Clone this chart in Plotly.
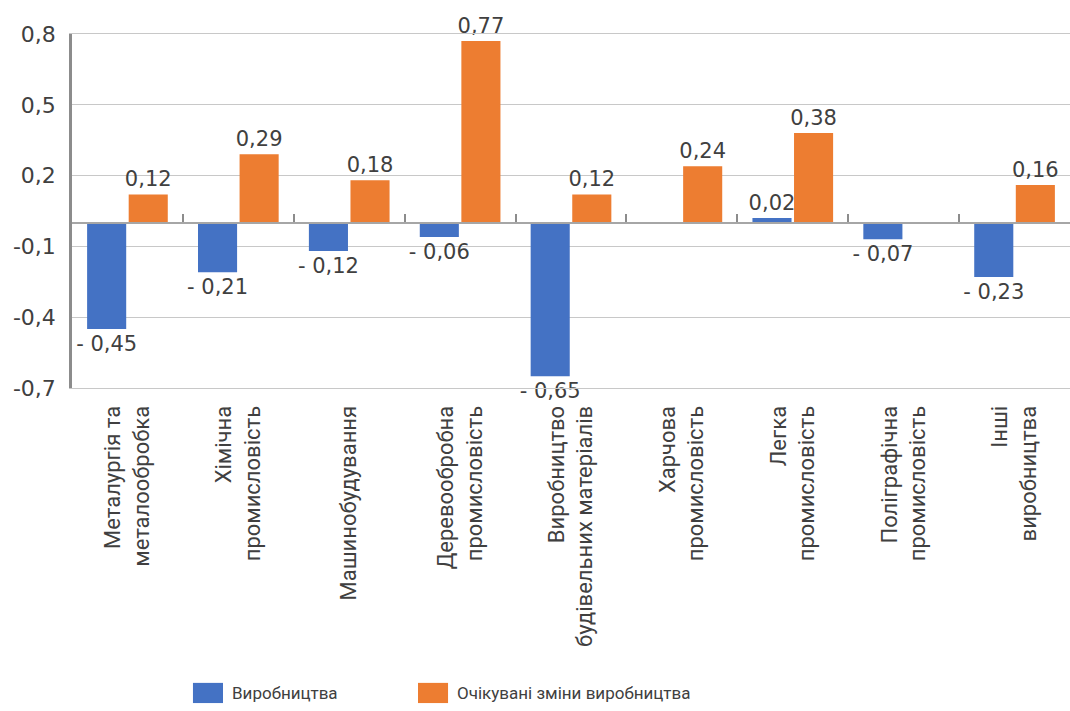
import plotly.graph_objects as go

# Industry categories (two-line labels)
categories = [
    "Металургія та<br>металообробка",
    "Хімічна<br>промисловість",
    "Машинобудування",
    "Деревообробна<br>промисловість",
    "Виробництво<br>будівельних матеріалів",
    "Харчова<br>промисловість",
    "Легка<br>промисловість",
    "Поліграфічна<br>промисловість",
    "Інші<br>виробництва",
]

production = [-0.45, -0.21, -0.12, -0.06, -0.65, None, 0.02, -0.07, -0.23]
expected = [0.12, 0.29, 0.18, 0.77, 0.12, 0.24, 0.38, None, 0.16]

series_names = ["Виробництва", "Очікувані зміни виробництва"]
y_ticks = [-0.7, -0.4, -0.1, 0.2, 0.5, 0.8]

BLUE = "#4472C4"
ORANGE = "#ED7D31"
TEXT = "#404040"


def label(v):
    if v is None:
        return ""
    s = f"{abs(v):.2f}".replace(".", ",")
    return ("- " if v < 0 else "") + s


def tick_label(v):
    return f"{v:.1f}".replace(".", ",")


fig = go.Figure()
for vals, color, name in [(production, BLUE, series_names[0]),
                          (expected, ORANGE, series_names[1])]:
    fig.add_trace(go.Bar(
        x=categories, y=vals, name=name,
        marker=dict(color=color, line=dict(width=0)),
        text=[label(v) for v in vals],
        textposition="outside",
        constraintext="none",
        cliponaxis=False,
        textfont=dict(family="DejaVu Sans", size=21, color=TEXT),
        hoverinfo="skip",
        showlegend=False,
    ))

# axis that crosses at zero, carrying the category boundary ticks
fig.add_trace(go.Scatter(x=[None], y=[None], xaxis="x2", yaxis="y",
                         showlegend=False, hoverinfo="skip"))

fig.update_layout(
    width=1070, height=711,
    margin=dict(l=72, r=0, t=34, b=323),
    paper_bgcolor="white", plot_bgcolor="white",
    barmode="group", bargap=0.25, bargroupgap=0.06,
    xaxis=dict(
        type="category",
        tickangle=-90,
        tickfont=dict(family="Roboto", size=22, color=TEXT),
        ticks="", ticklabelstandoff=8,
        showgrid=False, zeroline=False,
        showline=True, mirror=True, linecolor="#c8c8c8", linewidth=1.2,
    ),
    xaxis2=dict(
        overlaying="x", anchor="free", position=0.7 / 1.5,
        range=[-0.5, len(categories) - 0.5],
        tickvals=[i + 0.5 for i in range(len(categories) - 1)],
        showticklabels=False,
        ticks="inside", ticklen=8, tickcolor="#8c8c8c", tickwidth=1.5,
        showline=True, linecolor="#a6a6a6", linewidth=1.5,
        showgrid=False, zeroline=False,
    ),
    yaxis=dict(
        range=[-0.7, 0.8],
        tickvals=y_ticks,
        ticktext=[tick_label(v) for v in y_ticks],
        tickfont=dict(family="DejaVu Sans", size=22, color=TEXT),
        ticks="", ticklabelstandoff=9,
        showgrid=True, gridcolor="#c8c8c8", gridwidth=1.2,
        zeroline=False,
        showline=True, linecolor="#8c8c8c", linewidth=2.5,
    ),
)

# legend drawn below the chart
legend_items = [
    (series_names[0], BLUE, 0.1212),
    (series_names[1], ORANGE, 0.3467),
]
for name, color, x0 in legend_items:
    fig.add_shape(type="rect", xref="paper", yref="paper",
                  x0=x0, x1=x0 + 0.0301, y0=-0.890, y1=-0.833,
                  fillcolor=color, line=dict(width=0))
    fig.add_annotation(xref="paper", yref="paper", x=x0 + 0.0372, y=-0.8616,
                       text=name, showarrow=False, xanchor="left",
                       yanchor="middle",
                       font=dict(family="Roboto", size=17, color=TEXT))

fig.write_html("out.html")
